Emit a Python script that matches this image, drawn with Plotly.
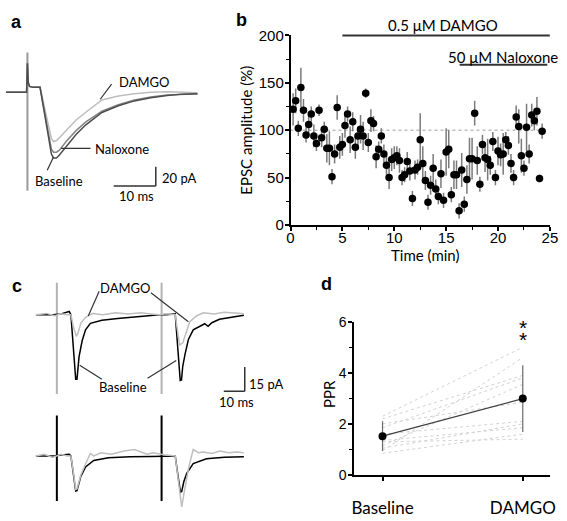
import plotly.graph_objects as go

W, H = 567, 521
TXT = "Lato"
NUM = "Liberation Sans, Arial"

# ---------------- Panel a : EPSC traces (ms, pA) ----------------
a_time_ms = [0, 4.9, 5.1, 5.3, 5.6, 6.5, 8.1, 10.8, 11.3, 12.0, 12.7, 14.3, 16.6, 18.9,
             22.8, 26.7, 30.5, 34.4, 38.3, 42.0, 45.5]
a_baseline_pA = [0, 0, 30, 10, 6, 5, 5, -64, -68, -68, -65, -56, -44, -34,
                 -21, -14, -9, -5.7, -3.3, -2, -1.5]
a_naloxone_pA = [0, 0, 30, 10, 6, 5, 5, -59, -62, -62, -60, -51, -40, -31,
                 -19.5, -13, -8, -5, -3, -2, -1.5]
a_damgo_pA = [0, 0, 30, 10, 6, 5, 5, -48, -51, -50, -47, -40, -29, -21,
              -8, -4, -1.5, 0, 0.5, 0, -0.5]
a_artifact_ms = [5.1, 5.1]
a_artifact_pA = [41, -102]

# ---------------- Panel b : EPSC amplitude time course ----------------
epsc_amp = [122, 131, 102, 145, 121, 95, 106, 117, 94, 86, 121, 92, 101, 81, 81, 51, 75, 124,
            82, 85, 105, 117, 90, 109, 82, 94, 101, 94, 139, 87, 110, 107, 72, 80, 94, 75,
            63, 50, 69, 71, 73, 68, 50, 53, 67, 57, 28, 58, 61, 90, 65, 47, 24, 42, 60, 38,
            30, 54, 26, 77, 80, 32, 53, 53, 15, 58, 22, 48, 70, 70, 118, 68, 43, 85, 71, 69,
            63, 88, 50, 78, 74, 75, 90, 84, 65, 50, 114, 104, 73, 60, 103, 75, 116, 110, 120,
            49, 99]
epsc_sem = [17, 13, 8, 21, 12, 8, 12, 8, 12, 8, 6, 10, 8, 15, 18, 8, 10, 13,
            12, 12, 13, 8, 14, 10, 12, 10, 15, 15, 5, 10, 12, 8, 12, 8, 8, 10,
            10, 12, 12, 12, 10, 13, 8, 8, 10, 10, 8, 10, 8, 28, 18, 10, 8, 10, 15, 10,
            8, 15, 8, 25, 20, 8, 15, 15, 8, 18, 8, 15, 22, 22, 13, 15, 8, 10, 15, 22,
            10, 10, 8, 15, 12, 22, 8, 10, 10, 8, 12, 18, 18, 8, 25, 10, 12, 10, 15,
            4, 8]
SWEEP_MIN = 0.25  # one sweep every 15 s
time_min = [round(SWEEP_MIN * (i + 1), 2) for i in range(len(epsc_amp))]
b_yticks = [0, 50, 100, 150, 200]
b_xticks = [0, 5, 10, 15, 20, 25]
damgo_period = [5, 25]
naloxone_period = [16.3, 24.75]

# ---------------- Panel c : paired-pulse traces (ms, pA) ----------------
ct_base_ms = [0, 8, 12, 15.9, 16.7, 17.9, 19.0, 19.6, 20.6, 22.1, 23.7, 26.0, 31.5, 39, 51.6,
              59, 62, 66.5, 67.8, 68.9, 69.5, 70.1, 71.2, 72.8, 75.1, 78.2, 80.6, 82.2, 84,
              87.6, 93.8, 99.3]
ct_base_pA = [0, 0, 0.5, 2, 0, -22, -40, -40, -26, -16, -9.4, -5.4, -3.4, -2.4, -0.8,
              0, 0, 0.5, -22, -40.8, -40.5, -32, -24.4, -15.4, -9.4, -7.4, -5.6, -7.2, -5,
              -2.8, -1.4, -0.4]
ct_damgo_ms = [0, 5, 9, 12, 15, 16.7, 18.0, 19.3, 20.2, 21.4, 23.7, 27, 32, 38, 44, 50, 55,
               59, 62, 66.5, 67.6, 68.6, 70.1, 72.0, 73.5, 76.6, 80, 85, 90, 95, 99.3]
ct_damgo_pA = [0, 0.8, -0.6, 0.6, 0, 0, -8, -13.4, -11, -5.4, -1.6, 0.8, 0, 1.2, 0.5, 1.2,
               0.5, 0, 0.6, 0, -10, -18.8, -17.4, -9.4, -4.4, -0.8, 1.2, 0.5, 1.5, 1, 0.6]
cb_base_ms = [0, 9, 12, 15.9, 16.7, 18.0, 19.0, 19.6, 20.5, 21.4, 23.7, 27.6, 34.6, 45, 55,
              62, 66.5, 67.8, 69.0, 69.6, 70.6, 72.0, 75.1, 81.4, 90, 99.3]
cb_base_pA = [0, 0, 0.5, 1, 0, -12, -21.8, -21.5, -17, -12.8, -6.8, -2.8, -1.2, -0.5, -0.3,
              0, 0, -12, -22.4, -22, -16, -10.8, -4.8, -1.8, -0.8, -0.5]
cb_damgo_ms = [0, 4, 8, 12, 15, 16.7, 18.0, 19.0, 19.6, 20.5, 21.4, 23.7, 26, 27.6, 31, 36,
               42, 47, 50, 53, 56, 62, 66.5, 67.8, 69.0, 69.6, 70.6, 72.0, 73.0, 75.1, 77.5,
               80, 84, 88, 92, 96, 99.3]
cb_damgo_pA = [0, 1, -1, 1, 0, 0, -11, -20.8, -20.5, -16, -12, -5, 1.5, 0, 2, 1,
               3, 4, 2.5, 1, 2, 0.5, 0, -15, -28, -31.8, -24, -14.8, -6.8, 4, 2,
               2.5, 1.5, 3, 2, 2.5, 2]
c_stim_ms = [10, 60]
ct_artifact_pA = [19.8, -49.2]
cb_artifact_pA = [25, -28]

# ---------------- Panel d : paired-pulse ratio ----------------
ppr_conditions = ["Baseline", "DAMGO"]
ppr_baseline = [2.3, 0.95, 2.2, 1.85, 1.15, 1.6, 2.0, 1.05, 0.85, 1.35, 1.3]
ppr_damgo = [5.0, 4.6, 3.9, 3.8, 3.55, 2.1, 2.85, 2.0, 1.6, 1.85, 1.4]
ppr_mean = [1.52, 2.99]
ppr_sd = [0.58, 1.31]
d_yticks = [0, 2, 4, 6]


# ---------------- geometry helpers ----------------
def fx(p):
    return p / W


def fy(p):
    return 1 - p / H


def lin_range(p0, p1, origin, scale, flip=False):
    if flip:
        return sorted([(origin - p1) / scale, (origin - p0) / scale])
    return [(p0 - origin) / scale, (p1 - origin) / scale]


# panel a mapping: px = 2 + 4.3*t ; py = 86 - 1.0*pA
A_X0, A_XS, A_Y0, A_YS = 2, 4.3, 86, 1.0
# panel c mapping: px = 32.6 + 2.14*t ; py = base - 1.667*pA
C_X0, C_XS, CT_Y0, CB_Y0, C_YS = 32.6, 2.14, 316, 462, 1.667

fig = go.Figure()

# ---- panel a traces
fig.add_trace(go.Scatter(x=a_artifact_ms, y=a_artifact_pA, mode="lines",
                         line=dict(color="#9a9a9a", width=2), xaxis="x", yaxis="y"))
for vals, col in [(a_damgo_pA, "#bdbdbd"), (a_naloxone_pA, "#858585"), (a_baseline_pA, "#4d4d4d")]:
    fig.add_trace(go.Scatter(x=a_time_ms, y=vals, mode="lines", line=dict(color=col, width=1.5),
                             xaxis="x", yaxis="y"))

# ---- panel b
fig.add_trace(go.Scatter(x=[0, 24.6], y=[100, 100], mode="lines",
                         line=dict(color="#bdbdbd", width=1.5, dash="dot"), xaxis="x2", yaxis="y2"))
fig.add_trace(go.Scatter(x=time_min, y=epsc_amp, mode="markers",
                         marker=dict(color="black", size=7.5),
                         error_y=dict(type="data", array=epsc_sem, color="#7a7a7a", thickness=1.5, width=0),
                         cliponaxis=False, xaxis="x2", yaxis="y2"))

# ---- panel c top
for t in c_stim_ms:
    fig.add_trace(go.Scatter(x=[t, t], y=ct_artifact_pA, mode="lines",
                             line=dict(color="#b3b3b3", width=2), xaxis="x3", yaxis="y3"))
fig.add_trace(go.Scatter(x=ct_base_ms, y=ct_base_pA, mode="lines", line=dict(color="black", width=1.5),
                         xaxis="x3", yaxis="y3"))
fig.add_trace(go.Scatter(x=ct_damgo_ms, y=ct_damgo_pA, mode="lines", line=dict(color="#bfbfbf", width=1.5),
                         xaxis="x3", yaxis="y3"))
# ---- panel c bottom
for t in c_stim_ms:
    fig.add_trace(go.Scatter(x=[t, t], y=cb_artifact_pA, mode="lines",
                             line=dict(color="black", width=2), xaxis="x4", yaxis="y4"))
fig.add_trace(go.Scatter(x=cb_base_ms, y=cb_base_pA, mode="lines", line=dict(color="black", width=1.5),
                         xaxis="x4", yaxis="y4"))
fig.add_trace(go.Scatter(x=cb_damgo_ms, y=cb_damgo_pA, mode="lines", line=dict(color="#bfbfbf", width=1.5),
                         xaxis="x4", yaxis="y4"))

# ---- panel d
ind_x, ind_y = [], []
for b0, d0 in zip(ppr_baseline, ppr_damgo):
    ind_x += [ppr_conditions[0], ppr_conditions[1], None]
    ind_y += [b0, d0, None]
fig.add_trace(go.Scatter(x=ind_x, y=ind_y, mode="lines", line=dict(color="#d2d2d2", width=1, dash="dot"),
                         xaxis="x5", yaxis="y5"))
fig.add_trace(go.Scatter(x=ppr_conditions, y=ppr_mean, mode="lines+markers",
                         line=dict(color="#404040", width=1.2),
                         marker=dict(color="black", size=8),
                         error_y=dict(type="data", array=ppr_sd, color="#6a6a6a", thickness=1.2, width=0),
                         cliponaxis=False, xaxis="x5", yaxis="y5"))

hid = dict(visible=False, fixedrange=True)
axis_style = dict(showline=True, linecolor="black", linewidth=1.5, ticks="outside", ticklen=4,
                  tickwidth=1.5, tickcolor="black", showgrid=False, zeroline=False,
                  tickfont=dict(family=NUM, size=15, color="black"))
minor_style = dict(ticklen=3, tickwidth=1.2, ticks="outside", tickcolor="black")

fig.update_layout(
    width=W, height=H, autosize=False, margin=dict(l=0, r=0, t=0, b=0),
    paper_bgcolor="white", plot_bgcolor="white", showlegend=False,
    xaxis=dict(domain=[fx(0), fx(200)], range=lin_range(0, 200, A_X0, A_XS), anchor="y", **hid),
    yaxis=dict(domain=[fy(200), fy(20)], range=lin_range(20, 200, A_Y0, A_YS, flip=True), anchor="x", **hid),
    xaxis2=dict(domain=[fx(292.7), fx(557.7)], range=[0, 25], anchor="y2", tickvals=b_xticks,
                minor=dict(dtick=2.5, **minor_style), ticklabelstandoff=-6, **axis_style),
    yaxis2=dict(domain=[fy(223.3), fy(27.3)], range=[0, 200], anchor="x2", tickvals=b_yticks,
                minor=dict(dtick=25, **minor_style), ticklabelstandoff=-2, **axis_style),
    xaxis3=dict(domain=[fx(25), fx(290)], range=lin_range(25, 290, C_X0, C_XS), anchor="y3", **hid),
    yaxis3=dict(domain=[fy(410), fy(270)], range=lin_range(270, 410, CT_Y0, C_YS, flip=True), anchor="x3", **hid),
    xaxis4=dict(domain=[fx(25), fx(290)], range=lin_range(25, 290, C_X0, C_XS), anchor="y4", **hid),
    yaxis4=dict(domain=[fy(515), fy(412)], range=lin_range(412, 515, CB_Y0, C_YS, flip=True), anchor="x4", **hid),
    xaxis5=dict(domain=[fx(357.7), fx(558)], type="category", categoryarray=ppr_conditions,
                range=[-0.2024, 1.1954], anchor="y5", showline=True, linecolor="black", linewidth=1.5,
                ticks="outside", ticklen=4, tickwidth=1.5, tickcolor="black", showgrid=False, zeroline=False,
                ticklabelstandoff=13, tickfont=dict(family=TXT, size=17, color="black")),
    yaxis5=dict(domain=[fy(481.7), fy(323.3)], range=[0, 6], anchor="x5", tickvals=d_yticks,
                minor=dict(dtick=1, **minor_style), ticklabelstandoff=-1,
                **{**axis_style, "tickfont": dict(family=NUM, size=14, color="black")}),
)

shapes = []
# b treatment bars
shapes.append(dict(type="line", xref="x2", yref="y2 domain", x0=damgo_period[0], x1=damgo_period[1],
                   y0=1, y1=1, line=dict(color="#333333", width=2)))
shapes.append(dict(type="line", xref="x2", yref="y2 domain", x0=naloxone_period[0], x1=naloxone_period[1],
                   y0=0.845, y1=0.845, line=dict(color="#333333", width=2)))


def seg(xr, yr, x0, y0, x1, y1, color="#333333", width=1.2):
    shapes.append(dict(type="line", xref=xr, yref=yr, x0=x0, y0=y0, x1=x1, y1=y1,
                       line=dict(color=color, width=width)))


# a pointer lines and scale bar
seg("x", "y", 25.1, 8.3, 22.4, -7.3)
seg("x", "y", 13.1, -58, 20.1, -58)
seg("x", "y", 9.8, -80.7, 11.3, -67)
SB_A = (35.6, -97)
seg("x", "y", SB_A[0], SB_A[1], SB_A[0], SB_A[1] + 20, width=1.5)
seg("x", "y", SB_A[0] - 10, SB_A[1], SB_A[0], SB_A[1], width=1.5)
# c pointer lines and scale bar
seg("x3", "y3", 30.2, 14.6, 25.0, -0.8)
seg("x3", "y3", 54.9, 13.6, 72.8, -4.4)
seg("x3", "y3", 31.5, -40, 20.9, -31.4)
seg("x3", "y3", 53.3, -39.4, 67.0, -28.4)
SB_C = (99.7, -47.4)
seg("x3", "y3", SB_C[0], SB_C[1], SB_C[0], SB_C[1] + 15, width=1.5)
seg("x3", "y3", SB_C[0] - 10, SB_C[1], SB_C[0], SB_C[1], width=1.5)
fig.update_layout(shapes=shapes)

ann = []


def txt(text, x, y, xr, yr, size=13, family=TXT, xanchor="center", angle=0, bold=False):
    ann.append(dict(text=("<b>%s</b>" % text) if bold else text, x=x, y=y, xref=xr, yref=yr,
                    showarrow=False, xanchor=xanchor, yanchor="middle", textangle=angle,
                    font=dict(family=family, size=size, color="black")))


# panel letters
txt("a", fx(13), fy(13), "paper", "paper", size=18, family=NUM, bold=True)
txt("b", fx(243), fy(11), "paper", "paper", size=18, family=NUM, bold=True)
txt("c", fx(13), fy(286), "paper", "paper", size=18, family=NUM, bold=True)
txt("d", fx(329), fy(284), "paper", "paper", size=18, family=NUM, bold=True)
# a labels
txt("DAMGO", 26.3, 11, "x", "y", xanchor="left")
txt("Naloxone", 20.6, -59, "x", "y", xanchor="left")
txt("Baseline", 12.7, -92, "x", "y")
txt("20 pA", 36.5, -89, "x", "y", xanchor="left")
txt("10 ms", 30.9, -107, "x", "y")
# b labels
txt("0.5 μM DAMGO", 14.7, fy(17), "x2", "paper", size=15)
txt("50 μM Naloxone", 20.5, 177, "x2", "y2", size=15)
txt("EPSC amplitude (%)", fx(247), fy(125), "paper", "paper", size=15, angle=-90)
txt("Time (min)", fx(430), fy(254), "paper", "paper", size=15)
# c labels
txt("DAMGO", 42.4, 16.6, "x3", "y3")
txt("Baseline", 41.6, -45, "x3", "y3")
txt("15 pA", 100.8, -42.8, "x3", "y3", xanchor="left")
txt("10 ms", 95.7, -54.4, "x3", "y3")
# d labels
txt("PPR", fx(332), fy(398), "paper", "paper", size=15, angle=-90)
# significance: two stacked asterisks, each in a compact box
for top_px in (316.0, 328.4):
    ann.append(dict(text="*", x=ppr_conditions[1], y=fy(top_px), xref="x5", yref="paper", showarrow=False,
                    xanchor="center", yanchor="top", height=12, valign="top", borderpad=0,
                    font=dict(family=NUM, size=21, color="black")))
fig.update_layout(annotations=ann)

fig.write_html("out.html", config={"displayModeBar": False},
               post_script="document.body.style.margin='0';document.body.style.padding='0';")
